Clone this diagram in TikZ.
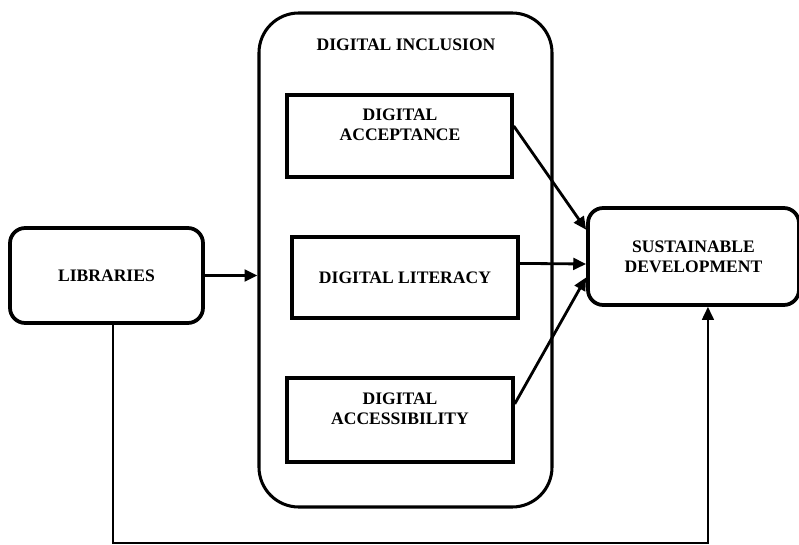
\documentclass[tikz,border=0pt]{standalone}
\usepackage{fontspec}
\setmainfont{Liberation Serif}
\usepackage{tikz}
\usetikzlibrary{arrows.meta}
\tikzstyle{txt} = [font=\bfseries\fontsize{15}{17}\selectfont, align=center]
\tikzstyle{roundbox} = [draw, line width=3.2pt, rounded corners=13pt, txt]
\tikzstyle{sqbox} = [draw, line width=3pt, txt]
\tikzstyle{arrow} = [line width=2.4pt, -{Triangle[length=11pt, width=10pt]}]
\tikzstyle{feedback} = [line width=1.8pt]

\begin{document}
\begin{tikzpicture}[x=0.03cm, y=-0.03cm]
	\useasboundingbox (0,0) rectangle (799,545);

	\node[roundbox, minimum width=5.79cm, minimum height=2.85cm](libs) at (106.5,275.5){LIBRARIES};
	\node[draw, line width=2.6pt, rounded corners=34pt, minimum width=8.79cm, minimum height=14.82cm](incl) at (405.5,260){};
	\node[txt](incltxt) at (406,45){DIGITAL INCLUSION};
	\node[sqbox, minimum width=6.75cm, minimum height=2.46cm](acc) at (399.5,136){};
	\node[txt](acctxt) at (400,125){DIGITAL\\ACCEPTANCE};
	\node[sqbox, minimum width=6.78cm, minimum height=2.43cm](lit) at (405,277.5){DIGITAL LITERACY};
	\node[sqbox, minimum width=6.78cm, minimum height=2.52cm](accs) at (400,420){};
	\node[txt](accstxt) at (400,408.5){DIGITAL\\ACCESSIBILITY};
	\node[roundbox, minimum width=6.33cm, minimum height=2.91cm](sd) at (693.5,256.5){SUSTAINABLE\\DEVELOPMENT};
	\coordinate(foot) at (400,543);

	\draw[arrow](libs.east) -- (libs.east -| incl.west);
	\draw[arrow](acc.5) -- (sd.166);
	\draw[arrow](lit.7) -- (sd.184);
	\draw[arrow](accs.8) -- (sd.191);
	\draw[feedback](libs.-83) |- (foot);
	\draw[feedback, arrow, line width=1.8pt](foot) -| (sd.-74);
\end{tikzpicture}
\end{document}
